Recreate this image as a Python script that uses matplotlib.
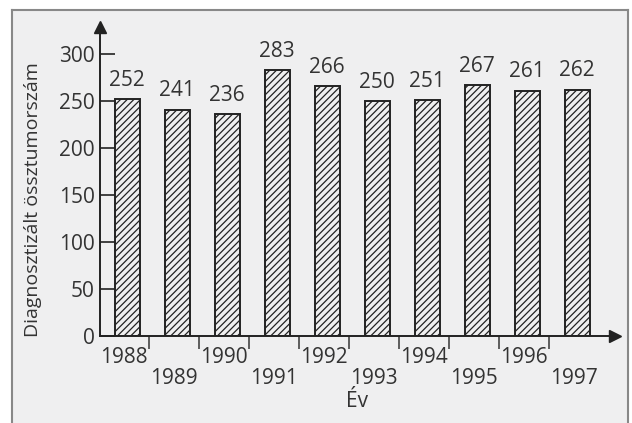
import matplotlib
matplotlib.use("Agg")
import matplotlib.pyplot as plt
from matplotlib.patches import Rectangle

years = ["1988", "1989", "1990", "1991", "1992", "1993", "1994", "1995", "1996", "1997"]
counts = [252, 241, 236, 283, 266, 250, 251, 267, 261, 262]
yticks = [0, 50, 100, 150, 200, 250, 300]

plt.rcParams['font.family'] = ['Open Sans', 'DejaVu Sans']
plt.rcParams['hatch.linewidth'] = 0.9
plt.rcParams['hatch.color'] = '#333333'
txt = '#333333'
fs = 15

fig = plt.figure(figsize=(6.32, 4.23), dpi=100)
fig.patch.set_facecolor('white')
# grey panel with a thin frame (no bottom line)
fig.add_artist(Rectangle((12 / 632, 0), 616 / 632, 413 / 423, transform=fig.transFigure,
                         facecolor='#efeff0', edgecolor='none', zorder=-10))
for xs, ys in [([12, 12], [0, 413]), ([12, 628], [413, 413]), ([628, 628], [413, 0])]:
    fig.add_artist(plt.Line2D([x / 632 for x in xs], [y / 423 for y in ys],
                              color='#888888', lw=1.5, transform=fig.transFigure, zorder=-5))

ax = fig.add_axes([100 / 632, 87 / 423, 515 / 632, 309 / 423])
ax.set_facecolor('none')
x = list(range(len(years)))
bars = ax.bar(x, counts, width=0.5, facecolor='none', edgecolor='#222222',
              linewidth=1.4, hatch='/////')
for xi, v in zip(x, counts):
    ax.text(xi, v + 9, str(v), ha='center', va='bottom', fontsize=fs, color=txt)

ax.set_xlim(-0.54, 9.76)
ax.set_ylim(0, 329)

for s in ['top', 'right']:
    ax.spines[s].set_visible(False)
for s in ['left', 'bottom']:
    ax.spines[s].set_color('#222222')
    ax.spines[s].set_linewidth(1.4)
ax.plot(1, 0, '>', color='#222222', markersize=9, transform=ax.transAxes, clip_on=False)
ax.plot(0, 1, '^', color='#222222', markersize=9, transform=ax.transAxes, clip_on=False)

ax.set_yticks(yticks)
ax.set_yticklabels([str(t) for t in yticks])
ax.tick_params(axis='y', direction='in', length=11, width=1.2, color='#222222',
               labelsize=fs, labelcolor=txt, pad=4)

# minor ticks between bars, labels staggered under bars
ax.set_xticks([i + 0.43 for i in range(len(years) - 1)], minor=True)
ax.tick_params(axis='x', which='minor', direction='out', length=9, width=1.2, color='#444444')
ax.set_xticks([i - 0.06 for i in x])
ax.set_xticklabels([y if i % 2 == 0 else '\n' + y for i, y in enumerate(years)])
ax.tick_params(axis='x', which='major', length=0, labelsize=fs, labelcolor=txt, pad=8)
for lbl in ax.get_xticklabels():
    lbl.set_linespacing(1.0)

ax.set_xlabel('Év', fontsize=fs, color=txt, labelpad=1)
ax.set_ylabel('Diagnosztizált össztumorszám', fontsize=14, color=txt)
ax.yaxis.set_label_coords(-0.112, 0.44)

fig.savefig('out.png', dpi=100)
